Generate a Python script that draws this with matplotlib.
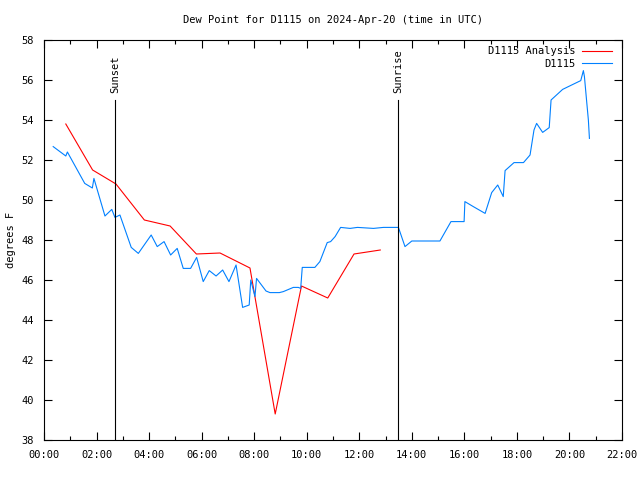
import matplotlib
matplotlib.use("Agg")
import matplotlib.pyplot as plt
from matplotlib.ticker import MultipleLocator, FuncFormatter

plt.rcParams["font.family"] = "DejaVu Sans Mono"
plt.rcParams["font.size"] = 7.5

# hours since 00:00 UTC
analysis_t = [0.83, 1.85, 2.74, 3.82, 4.80, 5.80, 6.70, 7.84, 8.80, 9.80, 10.80, 11.80, 12.80]
analysis_v = [53.8, 51.5, 50.8, 49.0, 48.7, 47.3, 47.35, 46.6, 39.3, 45.7, 45.1, 47.3, 47.5]

obs_t = [0.35, 0.83, 0.89, 1.55, 1.84, 1.90, 2.32, 2.58, 2.70, 2.89,
         3.32, 3.59, 4.08, 4.31, 4.57, 4.82, 5.07, 5.30, 5.58, 5.81,
         6.06, 6.29, 6.55, 6.80, 7.04, 7.31, 7.56, 7.81, 7.87, 8.03,
         8.09, 8.45, 8.60, 8.96, 9.11, 9.49, 9.68, 9.77, 9.83, 10.31,
         10.50, 10.78, 10.91, 11.08, 11.29, 11.65, 11.93, 12.54, 12.92, 13.49,
         13.74, 14.00, 15.07, 15.49, 15.99, 16.02, 16.34, 16.79, 17.04, 17.27,
         17.48, 17.55, 17.89, 18.25, 18.50, 18.65, 18.75, 18.98, 19.23, 19.30,
         19.74, 20.21, 20.43, 20.53, 20.57, 20.65, 20.72, 20.76]
obs_v = [52.67, 52.2, 52.4, 50.83, 50.6, 51.08, 49.2, 49.53, 49.13, 49.25,
         47.63, 47.33, 48.25, 47.67, 47.92, 47.25, 47.58, 46.58, 46.58, 47.13,
         45.92, 46.47, 46.2, 46.5, 45.92, 46.75, 44.63, 44.75, 46.0, 45.17,
         46.08, 45.45, 45.37, 45.37, 45.42, 45.63, 45.63, 45.58, 46.63, 46.63,
         46.92, 47.87, 47.92, 48.17, 48.63, 48.58, 48.63, 48.58, 48.63, 48.63,
         47.67, 47.95, 47.95, 48.92, 48.92, 49.92, 49.67, 49.33, 50.37, 50.75,
         50.17, 51.47, 51.87, 51.87, 52.25, 53.5, 53.83, 53.38, 53.62, 55.0,
         55.53, 55.83, 55.97, 56.47, 56.17, 55.0, 54.0, 53.08]

sunset = 2.70
sunrise = 13.47
sun_top = 55.0

fig = plt.figure(figsize=(6.4, 4.8), dpi=100)
ax = fig.add_axes([44 / 640, 40 / 480, 578 / 640, 400 / 480])

ax.plot(analysis_t, analysis_v, color="#ff0000", lw=0.8, label="D1115 Analysis")
ax.plot(obs_t, obs_v, color="#0080ff", lw=0.8, label="D1115")

for t, name in [(sunset, "Sunset"), (sunrise, "Sunrise")]:
    ax.plot([t, t], [38, sun_top], color="black", lw=0.8)
    ax.text(t, sun_top + 0.35, name, rotation=90, ha="center", va="bottom")

ax.set_xlim(0, 22)
ax.set_ylim(38, 58)
ax.xaxis.set_major_locator(MultipleLocator(2))
ax.xaxis.set_minor_locator(MultipleLocator(1))
ax.yaxis.set_major_locator(MultipleLocator(2))
ax.xaxis.set_major_formatter(FuncFormatter(lambda x, p: f"{int(x):02d}:00"))
ax.tick_params(which="both", direction="in", top=True, right=True, width=0.8)
ax.tick_params(which="major", length=6, pad=7)
ax.tick_params(which="minor", length=3)
for s in ax.spines.values():
    s.set_linewidth(0.8)

ax.set_ylabel("degrees F", va="center")
ax.yaxis.set_label_coords(-33 / 578, 0.5)
ax.set_title("Dew Point for D1115 on 2024-Apr-20 (time in UTC)", fontsize=7.5, pad=12)

ax.legend(loc="upper right", bbox_to_anchor=(1, 1 + 4 / 400), frameon=False,
          markerfirst=False, handlelength=2.8, borderaxespad=0.6,
          labelspacing=0.25, handletextpad=0.7)
for txt in ax.get_legend().get_texts():
    txt.set_ha("right")

fig.savefig("out.png", dpi=100)
